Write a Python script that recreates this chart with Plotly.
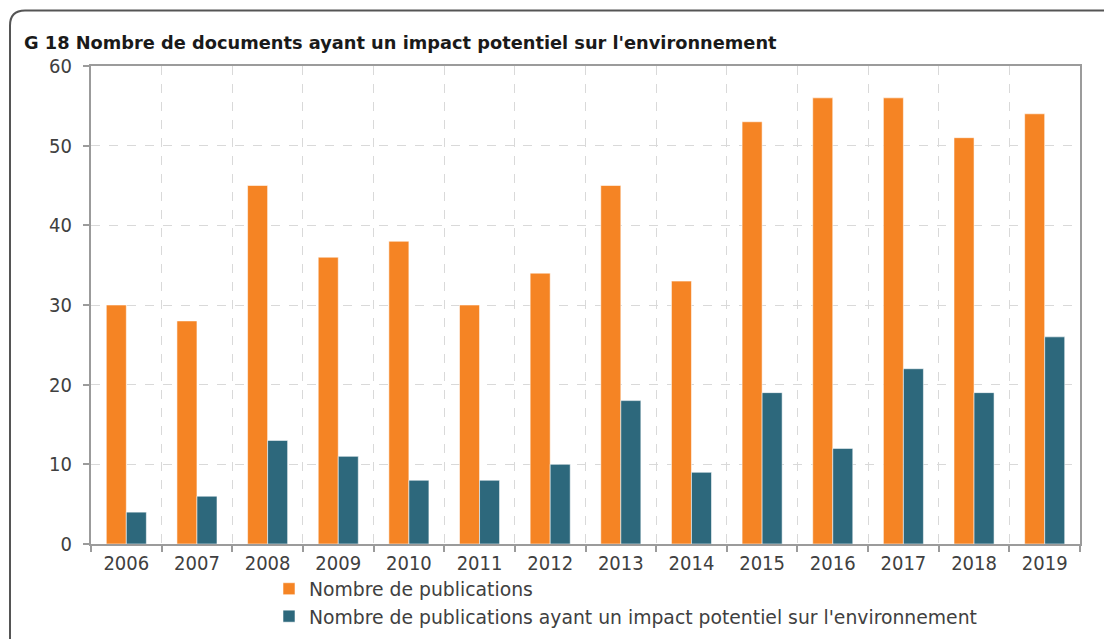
import plotly.graph_objects as go

# Annual document counts
years = ["2006", "2007", "2008", "2009", "2010", "2011", "2012",
         "2013", "2014", "2015", "2016", "2017", "2018", "2019"]
publications = [30, 28, 45, 36, 38, 30, 34, 45, 33, 53, 56, 56, 51, 54]
publications_env = [4, 6, 13, 11, 8, 8, 10, 18, 9, 19, 12, 22, 19, 26]

series_names = ["Nombre de publications",
                "Nombre de publications ayant un impact potentiel sur l'environnement"]
title_text = "G 18 Nombre de documents ayant un impact potentiel sur l'environnement"

ORANGE = "#F58424"
TEAL = "#2D687C"
TEXT = "#404040"
AXIS = "#9B9B9B"
GRID = "#D9D9D9"
FONT = "DejaVu Sans"
TICK_FONT = "DejaVu Sans Condensed, DejaVu Sans"

W, H = 1104, 639
L, R, T, B = 91, 24, 66, 95  # plot-area margins in px

fig = go.Figure()
fig.add_trace(go.Bar(
    x=years, y=publications, name=series_names[0],
    marker=dict(color=ORANGE, line=dict(color="rgba(255,255,255,0.55)", width=1)),
))
fig.add_trace(go.Bar(
    x=years, y=publications_env, name=series_names[1],
    marker=dict(color=TEAL, line=dict(color="rgba(255,255,255,0.55)", width=1)),
))

# Rounded frame around the whole figure (open on right/bottom edges)
pw, ph = W - L - R, H - T - B
def px(x):
    return (x - L) / pw
def py(y):
    return (H - B - y) / ph

fx, fy, rad = 10, 10.5, 15
frame_path = (f"M {px(fx)},{py(H + 5)} L {px(fx)},{py(fy + rad)} "
              f"Q {px(fx)},{py(fy)} {px(fx + rad)},{py(fy)} L {px(W + 5)},{py(fy)}")
fig.add_shape(type="path", path=frame_path, xref="paper", yref="paper",
              line=dict(color="#555555", width=2), layer="above")

fig.update_layout(
    width=W, height=H,
    margin=dict(l=L, r=R, t=T, b=B, autoexpand=False),
    paper_bgcolor="white", plot_bgcolor="white",
    barmode="group", bargap=0.433, bargroupgap=0,
    font=dict(family=FONT, color=TEXT, size=18),
    title=dict(text=title_text, x=24 / W, xanchor="left",
               y=1 - 43 / H, yanchor="middle",
               font=dict(family=FONT, size=17.8, color="#1A1A1A", weight="bold")),
    legend=dict(orientation="v", x=px(269), xanchor="left",
                y=py(570), yanchor="top",
                font=dict(family=FONT, size=18.8, color=TEXT),
                bgcolor="rgba(0,0,0,0)", itemwidth=30, tracegroupgap=0),
    showlegend=True,
)
fig.update_xaxes(
    type="category", tickson="boundaries",
    showline=True, linecolor=AXIS, linewidth=2, mirror=True,
    ticks="outside", ticklen=6, tickcolor=AXIS, tickwidth=2,
    showgrid=True, gridcolor=GRID, griddash="dash", gridwidth=1,
    tickfont=dict(family=TICK_FONT, size=20, color=TEXT),
)
fig.update_yaxes(
    range=[0, 60], dtick=10, tick0=0,
    showline=True, linecolor=AXIS, linewidth=2, mirror=True,
    ticks="outside", ticklen=6, tickcolor=AXIS, tickwidth=2,
    showgrid=True, gridcolor=GRID, griddash="dash", gridwidth=1,
    zeroline=False,
    tickfont=dict(family=TICK_FONT, size=20, color=TEXT),
    ticklabelstandoff=7,
)

fig.write_html("out.html")
